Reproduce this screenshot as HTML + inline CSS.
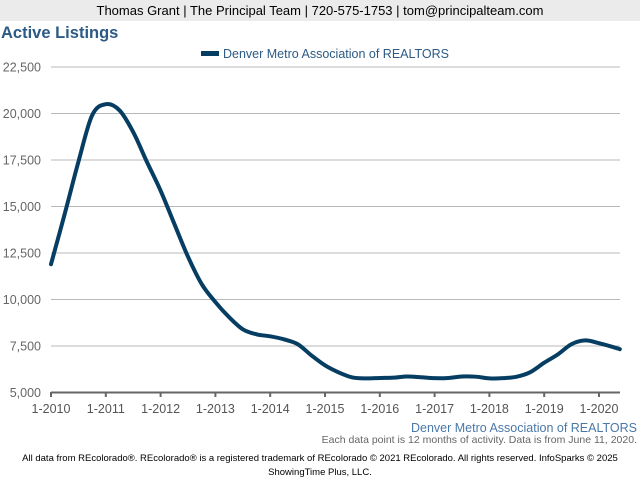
<!DOCTYPE html>
<html><head><meta charset="utf-8"><style>
body{margin:0;width:640px;height:480px;background:#fff;font-family:"Liberation Sans",Arial,sans-serif;overflow:hidden;position:relative}
.hdr{position:absolute;left:0;top:0;width:640px;height:21px;background:#ebebeb;text-align:center;font-size:13px;line-height:21px;color:#000}
.title{position:absolute;left:1px;top:24px;font-size:16.5px;font-weight:bold;color:#2b5a85}
</style></head><body>
<div class="hdr">Thomas Grant | The Principal Team | 720-575-1753 | tom@principalteam.com</div>
<div class="title">Active Listings</div>
<svg id="chart" width="640" height="480" style="position:absolute;left:0;top:0"></svg>
<script>
const yTicks=[5000,7500,10000,12500,15000,17500,20000,22500];
const xLabels=["1-2010","1-2011","1-2012","1-2013","1-2014","1-2015","1-2016","1-2017","1-2018","1-2019","1-2020"];
const times=[2010,2010.25,2010.5,2010.75,2011,2011.25,2011.5,2011.75,2012,2012.25,2012.5,2012.75,2013,2013.25,2013.5,2013.75,2014,2014.25,2014.5,2014.75,2015,2015.25,2015.5,2015.75,2016,2016.25,2016.5,2016.75,2017,2017.25,2017.5,2017.75,2018,2018.25,2018.5,2018.75,2019,2019.25,2019.5,2019.75,2020,2020.25,2020.38];
const values=[11900,14600,17400,19900,20500,20170,19000,17400,15850,14070,12300,10830,9860,9050,8400,8130,8020,7860,7600,7000,6460,6080,5810,5760,5780,5800,5860,5820,5770,5780,5860,5850,5760,5770,5850,6100,6600,7050,7600,7800,7650,7450,7330];
const NS="http://www.w3.org/2000/svg";
const svg=document.getElementById('chart');
const x=t=>51+(t-2010)*54.8;
const y=v=>392.5-(v-5000)/2500*46.5;
function mk(tag,attrs,parent){const e=document.createElementNS(NS,tag);for(const k in attrs)e.setAttribute(k,attrs[k]);(parent||svg).appendChild(e);return e;}
yTicks.forEach((v,i)=>{
 if(i>0){const g=mk('line',{x1:51,x2:620,y1:y(v),y2:y(v),stroke:'#b8b8b8','stroke-width':1});
 
 }
 const t=mk('text',{x:41,y:y(v)+4.5,'text-anchor':'end','font-size':12.5,fill:'#666'});
 t.textContent=v.toLocaleString('en-US');
 
 
});
const ax=mk('line',{x1:51,x2:620,y1:392.5,y2:392.5,stroke:'#666','stroke-width':2});


xLabels.forEach((l,i)=>{
 const tx=x(2010+i);
 const tk=mk('line',{x1:tx,x2:tx,y1:392,y2:397,stroke:'#666','stroke-width':2});
 
 
 const t=mk('text',{x:tx,y:413,'text-anchor':'middle','font-size':12.5,fill:'#555'});
 t.textContent=l;
 
 
});
// smooth path (Catmull-Rom)
const P=times.map((t,i)=>[x(t),y(values[i])]);
let d='M'+P[0][0]+','+P[0][1];
for(let i=0;i<P.length-1;i++){
 const p0=P[Math.max(0,i-1)],p1=P[i],p2=P[i+1],p3=P[Math.min(P.length-1,i+2)];
 const c1=[p1[0]+(p2[0]-p0[0])/6,p1[1]+(p2[1]-p0[1])/6];
 const c2=[p2[0]-(p3[0]-p1[0])/6,p2[1]-(p3[1]-p1[1])/6];
 d+=' C'+c1+' '+c2+' '+p2;
}
const line=mk('path',{d:d,fill:'none',stroke:'#063d62','stroke-width':4,'stroke-linejoin':'round','stroke-linecap':'round'});


const lg=mk('g',{});


mk('rect',{x:201,y:51,width:18,height:5,fill:'#063d62'},lg);
const lt=mk('text',{x:223,y:58,'font-size':12.5,fill:'#2b5a85'},lg);
lt.textContent='Denver Metro Association of REALTORS';
const src=mk('text',{x:637,y:432,'text-anchor':'end','font-size':12.5,fill:'#4a78a8'});
src.textContent='Denver Metro Association of REALTORS';


const note=mk('text',{x:637,y:443,'text-anchor':'end','font-size':10.5,fill:'#666'});
note.textContent='Each data point is 12 months of activity. Data is from June 11, 2020.';


const f1=mk('text',{x:320,y:461,'text-anchor':'middle','font-size':9.5,fill:'#000'});
f1.textContent='All data from REcolorado®. REcolorado® is a registered trademark of REcolorado © 2021 REcolorado. All rights reserved. InfoSparks © 2025';


const f2=mk('text',{x:320,y:475,'text-anchor':'middle','font-size':9.5,fill:'#000'});
f2.textContent='ShowingTime Plus, LLC.';


</script>
</body></html>
